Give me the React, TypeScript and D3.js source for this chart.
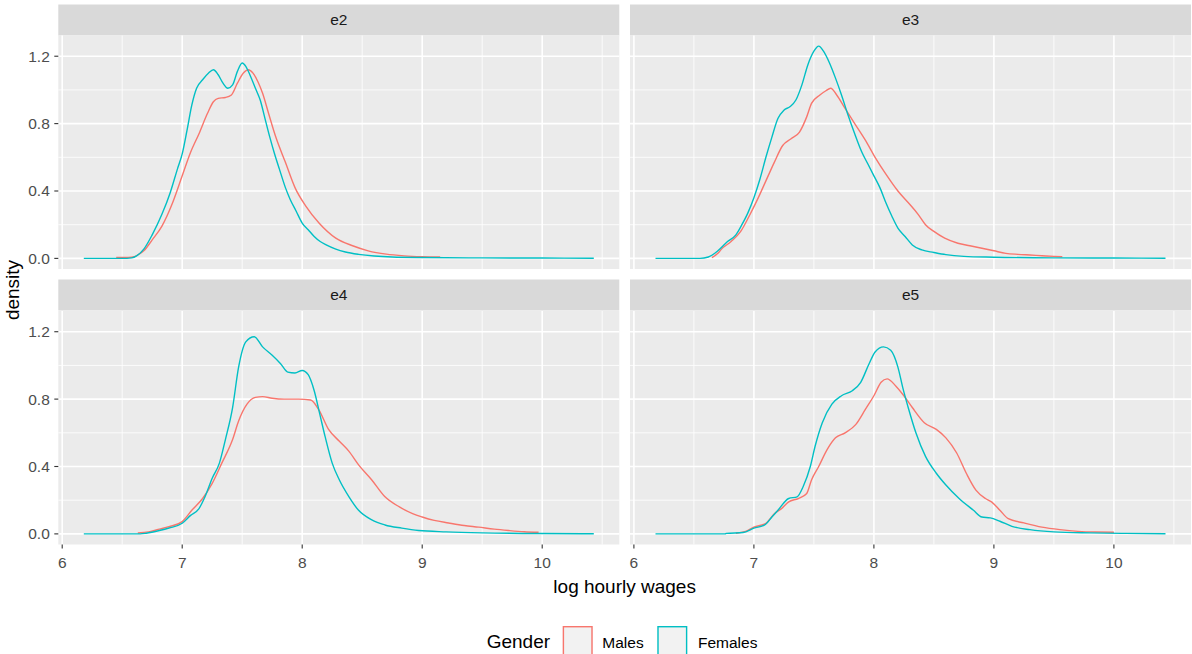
import React from "react";
import * as d3 from "d3";

const facets = ["e2", "e3", "e4", "e5"];
const seriesNames = ["Males", "Females"];
const seriesColors = ["#F8766D", "#00BFC4"];
const xTicks = [6, 7, 8, 9, 10];
const xMinor = [6.5, 7.5, 8.5, 9.5, 10.5];
const yTicks = [0, 0.4, 0.8, 1.2];
const yMinor = [0.2, 0.6, 1.0];

const e2Males: [number, number][] = [[6.45,0.005],[6.55,0.006],[6.6,0.01],[6.64,0.025],[6.68,0.045],[6.75,0.11],[6.83,0.19],[6.92,0.33],[7.0,0.49],[7.07,0.63],[7.14,0.74],[7.21,0.86],[7.26,0.93],[7.3,0.95],[7.36,0.955],[7.41,0.97],[7.46,1.04],[7.51,1.1],[7.55,1.12],[7.59,1.1],[7.63,1.05],[7.67,0.98],[7.72,0.86],[7.78,0.72],[7.86,0.57],[7.94,0.42],[8.03,0.31],[8.14,0.21],[8.28,0.12],[8.42,0.075],[8.55,0.045],[8.7,0.025],[8.85,0.015],[9.0,0.01],[9.15,0.008]];
const e2Females: [number, number][] = [[6.18,0],[6.5,0],[6.58,0.003],[6.62,0.015],[6.68,0.055],[6.75,0.14],[6.83,0.26],[6.9,0.39],[6.96,0.53],[7.0,0.62],[7.04,0.76],[7.08,0.91],[7.12,1.01],[7.17,1.06],[7.22,1.1],[7.26,1.12],[7.3,1.09],[7.34,1.04],[7.38,1.01],[7.42,1.03],[7.46,1.11],[7.5,1.16],[7.53,1.14],[7.57,1.08],[7.61,1.01],[7.65,0.94],[7.69,0.83],[7.73,0.72],[7.77,0.62],[7.81,0.53],[7.86,0.42],[7.9,0.35],[7.95,0.28],[8.0,0.21],[8.05,0.17],[8.1,0.13],[8.15,0.1],[8.2,0.08],[8.28,0.055],[8.36,0.038],[8.47,0.024],[8.6,0.014],[8.75,0.008],[9.0,0.005],[9.5,0.003],[10.0,0.002],[10.43,0.001]];
const e3Males: [number, number][] = [[6.65,0.005],[6.7,0.03],[6.73,0.055],[6.81,0.1],[6.89,0.16],[6.96,0.25],[7.03,0.35],[7.1,0.46],[7.17,0.57],[7.24,0.67],[7.31,0.71],[7.38,0.75],[7.44,0.84],[7.48,0.92],[7.55,0.97],[7.6,0.995],[7.64,1.01],[7.69,0.97],[7.76,0.89],[7.84,0.8],[7.93,0.7],[8.01,0.6],[8.1,0.5],[8.2,0.4],[8.3,0.32],[8.37,0.26],[8.43,0.2],[8.5,0.16],[8.59,0.12],[8.7,0.09],[8.8,0.075],[8.9,0.06],[9.0,0.045],[9.1,0.03],[9.2,0.024],[9.3,0.02],[9.4,0.016],[9.5,0.012],[9.57,0.01]];
const e3Females: [number, number][] = [[6.18,0],[6.55,0],[6.62,0.008],[6.7,0.045],[6.78,0.1],[6.85,0.14],[6.9,0.2],[6.95,0.27],[7.0,0.36],[7.05,0.47],[7.1,0.6],[7.15,0.72],[7.2,0.83],[7.25,0.88],[7.3,0.9],[7.35,0.94],[7.4,1.03],[7.45,1.15],[7.5,1.23],[7.54,1.26],[7.58,1.23],[7.63,1.16],[7.68,1.07],[7.73,0.97],[7.78,0.86],[7.84,0.74],[7.9,0.63],[7.95,0.56],[8.0,0.49],[8.05,0.42],[8.1,0.33],[8.15,0.25],[8.2,0.18],[8.26,0.13],[8.32,0.08],[8.4,0.05],[8.5,0.035],[8.6,0.022],[8.75,0.012],[9.0,0.007],[9.5,0.003],[10.0,0.002],[10.43,0.001]];
const e4Males: [number, number][] = [[6.63,0.005],[6.72,0.012],[6.81,0.028],[6.89,0.043],[7.0,0.073],[7.08,0.14],[7.17,0.21],[7.25,0.3],[7.33,0.42],[7.42,0.56],[7.47,0.67],[7.54,0.77],[7.61,0.81],[7.67,0.815],[7.75,0.805],[7.85,0.8],[7.97,0.8],[8.07,0.795],[8.14,0.735],[8.22,0.62],[8.31,0.55],[8.39,0.49],[8.47,0.41],[8.58,0.32],[8.69,0.22],[8.81,0.16],[8.92,0.12],[9.0,0.1],[9.1,0.08],[9.22,0.065],[9.35,0.05],[9.47,0.04],[9.6,0.028],[9.72,0.02],[9.85,0.013],[9.97,0.01]];
const e4Females: [number, number][] = [[6.18,0],[6.65,0],[6.7,0.004],[6.81,0.02],[6.89,0.035],[7.0,0.063],[7.07,0.11],[7.14,0.15],[7.19,0.22],[7.25,0.33],[7.31,0.42],[7.36,0.56],[7.42,0.75],[7.47,0.99],[7.53,1.14],[7.6,1.17],[7.67,1.11],[7.75,1.06],[7.82,1.01],[7.88,0.96],[7.94,0.955],[8.0,0.97],[8.05,0.945],[8.1,0.85],[8.15,0.7],[8.19,0.58],[8.25,0.42],[8.31,0.32],[8.39,0.22],[8.47,0.14],[8.58,0.083],[8.69,0.053],[8.83,0.034],[8.97,0.02],[9.2,0.012],[9.5,0.006],[10.0,0.002],[10.43,0.001]];
const e5Males: [number, number][] = [[6.85,0.004],[6.93,0.015],[7.0,0.04],[7.1,0.063],[7.17,0.12],[7.23,0.15],[7.29,0.19],[7.37,0.21],[7.44,0.24],[7.48,0.32],[7.54,0.4],[7.61,0.5],[7.68,0.57],[7.76,0.6],[7.85,0.65],[7.93,0.74],[8.0,0.82],[8.06,0.9],[8.11,0.92],[8.18,0.88],[8.25,0.82],[8.32,0.75],[8.42,0.66],[8.52,0.62],[8.6,0.57],[8.69,0.48],[8.77,0.36],[8.85,0.26],[8.93,0.21],[8.98,0.19],[9.05,0.14],[9.12,0.09],[9.25,0.065],[9.4,0.04],[9.55,0.025],[9.7,0.015],[9.85,0.011],[10.0,0.01]];
const e5Females: [number, number][] = [[6.18,0],[6.76,0],[6.77,0.003],[6.91,0.008],[7.0,0.034],[7.09,0.053],[7.15,0.1],[7.2,0.14],[7.29,0.21],[7.36,0.22],[7.41,0.28],[7.47,0.4],[7.51,0.52],[7.57,0.66],[7.65,0.77],[7.73,0.82],[7.82,0.85],[7.89,0.9],[7.96,1.01],[8.01,1.08],[8.08,1.11],[8.14,1.09],[8.2,0.99],[8.24,0.87],[8.29,0.74],[8.35,0.6],[8.43,0.46],[8.52,0.36],[8.6,0.29],[8.71,0.21],[8.83,0.14],[8.9,0.1],[8.97,0.095],[9.05,0.075],[9.15,0.045],[9.3,0.025],[9.5,0.012],[9.8,0.006],[10.1,0.003],[10.43,0.001]];

const facetData = [
  [e2Males, e2Females],
  [e3Males, e3Females],
  [e4Males, e4Females],
  [e5Males, e5Females],
];

const W = 1192;
const H = 654;
const FONT = "'Liberation Sans', Arial, sans-serif";
const colLeft = [58.3, 630];
const panelW = 561;
const stripTop = [4.5, 279.5];
const stripH = 31;
const plotTop = [35.5, 311];
const plotH = 233.5;

export default function App() {
  const xDomain: [number, number] = [6.18 - 0.2125, 10.43 + 0.2125];
  const yDomain: [number, number] = [-0.063, 1.323];

  const panels = facets.map((name, i) => {
    const col = i % 2;
    const row = Math.floor(i / 2);
    const x0 = colLeft[col];
    const y0 = plotTop[row];
    const xs = d3.scaleLinear().domain(xDomain).range([x0, x0 + panelW]);
    const ys = d3.scaleLinear().domain(yDomain).range([y0 + plotH, y0]);
    const line = d3
      .line<[number, number]>()
      .x((d) => xs(d[0]))
      .y((d) => ys(d[1]))
      .curve(d3.curveMonotoneX);
    return (
      <g key={name}>
        <rect x={x0} y={stripTop[row]} width={panelW} height={stripH} fill="#D9D9D9" />
        <text
          x={x0 + panelW / 2}
          y={stripTop[row] + stripH / 2}
          dy="0.35em"
          textAnchor="middle"
          fontSize={15.5}
          fill="#1A1A1A"
          fontFamily={FONT}
        >
          {name}
        </text>
        <rect x={x0} y={y0} width={panelW} height={plotH} fill="#EBEBEB" />
        {yMinor.map((v) => (
          <line key={"ym" + v} x1={x0} x2={x0 + panelW} y1={ys(v)} y2={ys(v)} stroke="#fff" strokeWidth={0.8} />
        ))}
        {xMinor.map((v) => (
          <line key={"xm" + v} x1={xs(v)} x2={xs(v)} y1={y0} y2={y0 + plotH} stroke="#fff" strokeWidth={0.8} />
        ))}
        {yTicks.map((v) => (
          <line key={"yM" + v} x1={x0} x2={x0 + panelW} y1={ys(v)} y2={ys(v)} stroke="#fff" strokeWidth={1.6} />
        ))}
        {xTicks.map((v) => (
          <line key={"xM" + v} x1={xs(v)} x2={xs(v)} y1={y0} y2={y0 + plotH} stroke="#fff" strokeWidth={1.6} />
        ))}
        {facetData[i].map((s, k) => (
          <path key={k} d={line(s) || ""} fill="none" stroke={seriesColors[k]} strokeWidth={1.4} />
        ))}
        {col === 0 &&
          yTicks.map((v) => (
            <g key={"yt" + v}>
              <line x1={x0 - 4} x2={x0} y1={ys(v)} y2={ys(v)} stroke="#333333" strokeWidth={1.1} />
              <text
                x={x0 - 8.5}
                y={ys(v)}
                dy="0.35em"
                textAnchor="end"
                fontSize={15.5}
                fill="#4D4D4D"
                fontFamily={FONT}
              >
                {v.toFixed(1)}
              </text>
            </g>
          ))}
        {row === 1 &&
          xTicks.map((v) => (
            <g key={"xt" + v}>
              <line x1={xs(v)} x2={xs(v)} y1={y0 + plotH} y2={y0 + plotH + 4} stroke="#333333" strokeWidth={1.1} />
              <text
                x={xs(v)}
                y={y0 + plotH + 23.5}
                textAnchor="middle"
                fontSize={15.5}
                fill="#4D4D4D"
                fontFamily={FONT}
              >
                {v}
              </text>
            </g>
          ))}
      </g>
    );
  });

  const legendY = 626;
  const keys = [
    { x: 562.7, tx: 602.3 },
    { x: 657.3, tx: 698 },
  ];

  return (
    <svg
      width={W}
      height={H}
      style={{ position: "absolute", left: 0, top: 0, display: "block", background: "#fff" }}
    >
      <rect x={0} y={0} width={W} height={H} fill="#fff" />
      {panels}
      <text
        x={(colLeft[0] + colLeft[1] + panelW) / 2}
        y={593}
        textAnchor="middle"
        fontSize={19}
        fill="#000"
        fontFamily={FONT}
      >
        log hourly wages
      </text>
      <text
        transform={`translate(19,${(plotTop[0] + plotTop[1] + plotH) / 2}) rotate(-90)`}
        textAnchor="middle"
        fontSize={19}
        fill="#000"
        fontFamily={FONT}
      >
        density
      </text>
      <text x={486.7} y={647.5} fontSize={19} fill="#000" fontFamily={FONT}>
        Gender
      </text>
      {seriesNames.map((n, k) => (
        <g key={n}>
          <rect x={keys[k].x} y={legendY} width={30} height={30} fill="#F2F2F2" />
          <rect
            x={keys[k].x + 0.7}
            y={legendY + 0.7}
            width={28.6}
            height={28.6}
            fill="none"
            stroke={seriesColors[k]}
            strokeWidth={1.4}
          />
          <text x={keys[k].tx} y={647.5} fontSize={15.5} fill="#000" fontFamily={FONT}>
            {n}
          </text>
        </g>
      ))}
    </svg>
  );
}
